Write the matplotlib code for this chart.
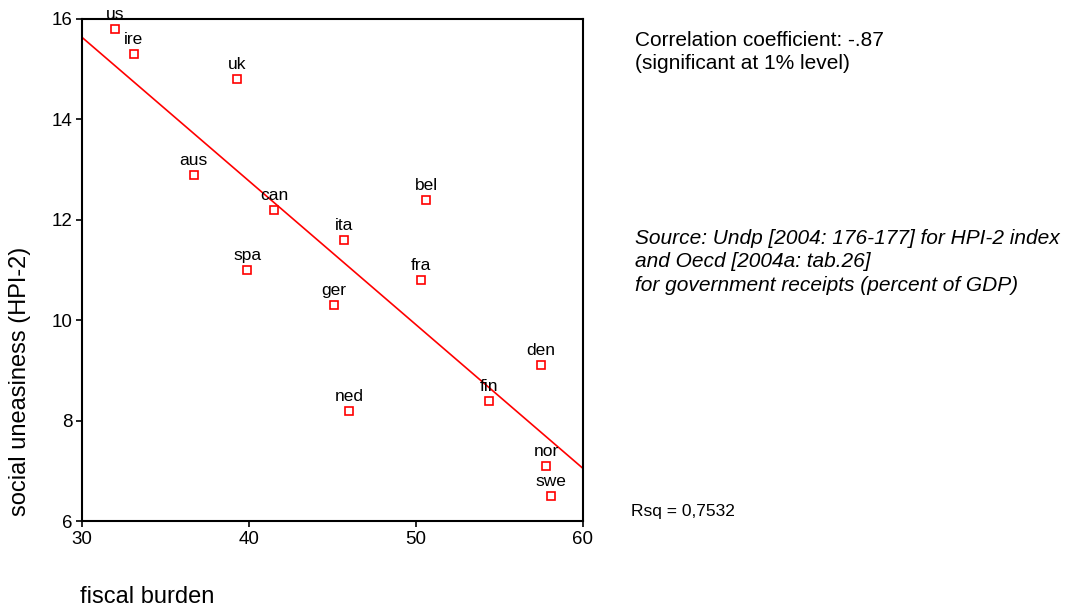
import numpy as np
import matplotlib
matplotlib.use("Agg")
import matplotlib.pyplot as plt

plt.rcParams['font.family'] = ['Liberation Sans', 'DejaVu Sans']

countries = ["us", "ire", "uk", "aus", "can", "spa", "ita", "bel", "fra", "ger",
             "ned", "fin", "den", "nor", "swe"]
fiscal_burden = [32.0, 33.1, 39.3, 36.7, 41.5, 39.9, 45.7, 50.6, 50.3, 45.1,
                 46.0, 54.4, 57.5, 57.8, 58.1]
hpi2 = [15.8, 15.3, 14.8, 12.9, 12.2, 11.0, 11.6, 12.4, 10.8, 10.3,
        8.2, 8.4, 9.1, 7.1, 6.5]
x_ticks = [30, 40, 50, 60]
y_ticks = [6, 8, 10, 12, 14, 16]

fig = plt.figure(figsize=(10.77, 6.10), dpi=100)
ax = fig.add_axes([0.0761, 0.1459, 0.4652, 0.823])

ax.plot(fiscal_burden, hpi2, linestyle='none', marker='s', markersize=6,
        markerfacecolor='white', markeredgecolor='red', markeredgewidth=1.2,
        clip_on=False, zorder=3)

coef = np.polyfit(fiscal_burden, hpi2, 1)
xl = np.array([30, 60])
ax.plot(xl, np.polyval(coef, xl), color='red', linewidth=1.2, zorder=2)

for c, x, y in zip(countries, fiscal_burden, hpi2):
    ax.annotate(c, (x, y), xytext=(0, 5), textcoords='offset points',
                ha='center', va='bottom', fontsize=12.5)

ax.set_xlim(30, 60)
ax.set_ylim(6, 16)
ax.set_xticks(x_ticks)
ax.set_yticks(y_ticks)
ax.tick_params(direction='out', length=4, width=1.2, labelsize=13.5, pad=3)
for s in ax.spines.values():
    s.set_linewidth(1.5)

fig.text(0.019, 0.375, "social uneasiness (HPI-2)", rotation=90,
         ha='center', va='center', fontsize=17)
fig.text(0.0743, 0.021, "fiscal burden", ha='left', va='center', fontsize=17)

fig.text(0.590, 0.950, "Correlation coefficient: -.87\n(significant at 1% level)",
         ha='left', va='top', fontsize=15, linespacing=1.3)
fig.text(0.590, 0.625, "Source: Undp [2004: 176-177] for HPI-2 index\n"
         "and Oecd [2004a: tab.26]\nfor government receipts (percent of GDP)",
         ha='left', va='top', fontsize=15, style='italic', linespacing=1.3)
fig.text(0.586, 0.162, "Rsq = 0,7532", ha='left', va='center', fontsize=12.5)

fig.savefig("out.png", dpi=100)
